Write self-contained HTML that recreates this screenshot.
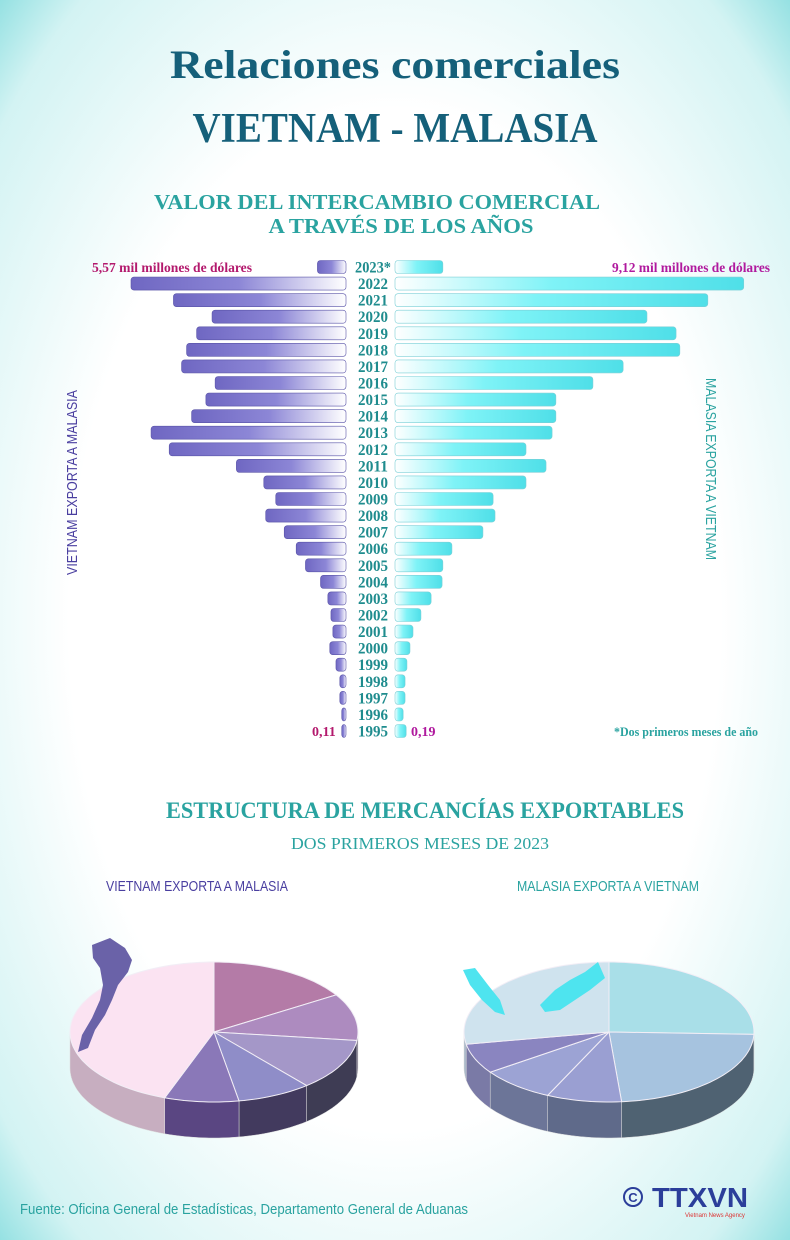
<!DOCTYPE html>
<html><head><meta charset="utf-8"><style>
html,body{margin:0;padding:0}
body{width:790px;height:1240px;overflow:hidden}
svg{display:block}
.serif{font-family:"Liberation Serif",serif;font-weight:bold}
.sans{font-family:"Liberation Sans",sans-serif}
</style></head><body>
<svg id="page" width="790" height="1240" viewBox="0 0 790 1240" xmlns="http://www.w3.org/2000/svg">
<defs>
<radialGradient id="bg" cx="50%" cy="50%" r="75%">
<stop offset="0.55" stop-color="#ffffff"/><stop offset="0.85" stop-color="#d3f3f3"/><stop offset="1" stop-color="#6fd6d8"/>
</radialGradient>
<linearGradient id="gl" x1="0" x2="1" y1="0" y2="0">
<stop offset="0" stop-color="#6f67c2"/><stop offset="0.5" stop-color="#8c86d6"/><stop offset="1" stop-color="#ffffff"/>
</linearGradient>
<linearGradient id="gr" x1="0" x2="1" y1="0" y2="0">
<stop offset="0" stop-color="#ffffff"/><stop offset="0.45" stop-color="#7ff3f7"/><stop offset="1" stop-color="#4fdfe8"/>
</linearGradient>
</defs>
<rect x="0" y="0" width="790" height="1240" fill="url(#bg)"/>
<text class="serif" x="395" y="78" text-anchor="middle" font-size="40" fill="#15607a" textLength="450" lengthAdjust="spacingAndGlyphs">Relaciones comerciales</text>
<text class="serif" x="395" y="142" text-anchor="middle" font-size="42" fill="#15607a" textLength="405" lengthAdjust="spacingAndGlyphs">VIETNAM - MALASIA</text>
<text class="serif" x="377" y="209" text-anchor="middle" font-size="21" fill="#2aa3a0" textLength="446" lengthAdjust="spacingAndGlyphs">VALOR DEL INTERCAMBIO COMERCIAL</text>
<text class="serif" x="401" y="233" text-anchor="middle" font-size="21" fill="#2aa3a0" textLength="265" lengthAdjust="spacingAndGlyphs">A TRAVÉS DE LOS AÑOS</text>
<g id="bars"></g>
<text class="serif" x="92" y="272" font-size="14" fill="#b3196d" textLength="160" lengthAdjust="spacingAndGlyphs">5,57 mil millones de  dólares</text>
<text class="serif" x="612" y="272" font-size="14" fill="#b0199e" textLength="158" lengthAdjust="spacingAndGlyphs">9,12 mil millones de dólares</text>
<text class="serif" x="312" y="736" font-size="14" fill="#b3196d">0,11</text>
<text class="serif" x="411" y="736" font-size="14" fill="#b0199e">0,19</text>
<text class="serif" x="614" y="736" font-size="13" fill="#2aa3a0" textLength="144" lengthAdjust="spacingAndGlyphs">*Dos primeros meses de año</text>
<text class="sans" transform="translate(77,575) rotate(-90)" font-size="15" fill="#4a3fa0" textLength="185" lengthAdjust="spacingAndGlyphs">VIETNAM EXPORTA A MALASIA</text>
<text class="sans" transform="translate(706,378) rotate(90)" font-size="15" fill="#2aa3a0" textLength="182" lengthAdjust="spacingAndGlyphs">MALASIA EXPORTA A VIETNAM</text>
<text class="serif" x="425" y="818" text-anchor="middle" font-size="23" fill="#2aa3a0" textLength="518" lengthAdjust="spacingAndGlyphs">ESTRUCTURA DE MERCANCÍAS EXPORTABLES</text>
<text x="420" y="849" text-anchor="middle" font-size="17" fill="#2aa3a0" font-family="Liberation Serif, serif" textLength="258" lengthAdjust="spacingAndGlyphs">DOS PRIMEROS MESES DE 2023</text>
<text class="sans" x="106" y="891" font-size="15" fill="#4a3fa0" textLength="182" lengthAdjust="spacingAndGlyphs">VIETNAM EXPORTA A MALASIA</text>
<text class="sans" x="517" y="891" font-size="15" fill="#2aa3a0" textLength="182" lengthAdjust="spacingAndGlyphs">MALASIA EXPORTA A VIETNAM</text>
<g id="pies"></g>
<path d="M92,945 L110,938 L125,948 L132,960 L128,972 L118,985 L112,1000 L105,1015 L95,1030 L88,1048 L78,1052 L82,1035 L92,1018 L100,1000 L103,985 L100,968 L93,958 Z" fill="#6a62a8"/>
<path d="M463,970 L475,968 L488,985 L500,1000 L505,1015 L495,1012 L482,1000 L470,985 Z" fill="#4ee4ef"/>
<path d="M540,1005 L555,990 L570,980 L585,972 L598,962 L605,978 L590,990 L575,1000 L560,1010 L545,1012 Z" fill="#4ee4ef"/>
<text class="sans" x="20" y="1214" font-size="15" fill="#2aa3a0" textLength="448" lengthAdjust="spacingAndGlyphs">Fuente:  Oficina General de Estadísticas, Departamento General de Aduanas</text>
<circle cx="633" cy="1197" r="9" fill="none" stroke="#2b3e9a" stroke-width="2"/>
<text class="sans" x="633" y="1202" text-anchor="middle" font-size="13" font-weight="bold" fill="#2b3e9a">C</text>
<text class="sans" x="652" y="1207" font-size="28" font-weight="bold" fill="#2b3e9a" textLength="96" lengthAdjust="spacingAndGlyphs">TTXVN</text>
<text class="sans" x="685" y="1217" font-size="6" fill="#d33">Vietnam News Agency</text>
</svg>
<script>
const years = ["2023*","2022","2021","2020","2019","2018","2017","2016","2015","2014","2013","2012","2011","2010","2009","2008","2007","2006","2005","2004","2003","2002","2001","2000","1999","1998","1997","1996","1995"];
const vnExports = [0.74,5.57,4.47,3.47,3.87,4.13,4.26,3.39,3.63,4.0,5.05,4.58,2.84,2.13,1.82,2.08,1.6,1.29,1.05,0.66,0.47,0.39,0.34,0.42,0.26,0.16,0.16,0.11,0.11];
const myExports = [1.16,9.12,8.17,6.56,7.33,7.43,5.93,5.13,4.15,4.15,4.05,3.36,3.89,3.36,2.49,2.54,2.22,1.4,1.16,1.14,0.85,0.58,0.37,0.29,0.21,0.16,0.16,0.11,0.19];
const NS="http://www.w3.org/2000/svg";
const yTop=267, yStep=(731-267)/28, bh=13;
const xL=(v)=>346 - v*38.6;
const xR=(v)=>399 + v*37.8;
const g=document.getElementById('bars');
years.forEach((yr,i)=>{
  const yc=yTop+i*yStep;
  const l=document.createElementNS(NS,'rect');
  const lx=xL(vnExports[i]);
  l.setAttribute('x',lx);l.setAttribute('y',yc-bh/2);l.setAttribute('width',346-lx);l.setAttribute('height',bh);
  l.setAttribute('rx',3);l.setAttribute('fill','url(#gl)');l.setAttribute('stroke','#5a54a8');l.setAttribute('stroke-width','0.6');
  
  
  g.appendChild(l);
  const r=document.createElementNS(NS,'rect');
  const rx=xR(myExports[i]);
  r.setAttribute('x',395);r.setAttribute('y',yc-bh/2);r.setAttribute('width',rx-395);r.setAttribute('height',bh);
  r.setAttribute('rx',3);r.setAttribute('fill','url(#gr)');r.setAttribute('stroke','#7bcfd6');r.setAttribute('stroke-width','0.6');
  
  
  g.appendChild(r);
  const t=document.createElementNS(NS,'text');
  t.setAttribute('x',373);t.setAttribute('y',yc+5.5);t.setAttribute('text-anchor','middle');
  t.setAttribute('class','serif');t.setAttribute('font-size','16');t.setAttribute('fill','#1f8c8e');
  t.setAttribute('textLength',yr.length>4?'36':'30');t.setAttribute('lengthAdjust','spacingAndGlyphs');
  t.textContent=yr;
  
  
  g.appendChild(t);
});
const vnSliceBounds=[0,58,97,140,170,200,360];
const vnSliceColors=["#b47ba7","#ad8bbf","#a497c8","#8f8dc8","#8a78b8","#fbe3f2"];
const vnSideColors=["#4a3d5a","#4d4360","#3e3c54","#423a5e","#5a4682","#c7aec0"];
const mySliceBounds=[0,92,175,205,235,260,360];
const mySliceColors=["#a9dfe8","#a6c3df","#9a9fd2","#9ca3d4","#8a85c0","#cfe3ee"];
const mySideColors=["#3f5060","#4f6272","#5f6a8a","#6c7598","#7a7aa6","#a9b8c8"];
function pt(cx,cy,rx,ry,t){const a=t*Math.PI/180;return [cx+rx*Math.sin(a),cy-ry*Math.cos(a)];}
function drawPie(name,cx,cy,rx,ry,depth,bounds,cols,sides){
  const pg=document.getElementById('pies');
  for(let i=0;i<cols.length;i++){
    const a0=Math.max(bounds[i],90),a1=Math.min(bounds[i+1],270);
    if(a1<=a0) continue;
    let top=[];
    for(let t=a0;t<=a1+0.001;t+=2){top.push(pt(cx,cy,rx,ry,Math.min(t,a1)));}
    top.push(pt(cx,cy,rx,ry,a1));
    const bot=top.map(p=>[p[0],p[1]+depth]).reverse();
    const p=document.createElementNS(NS,'path');
    p.setAttribute('d','M'+top.concat(bot).map(q=>q[0].toFixed(1)+','+q[1].toFixed(1)).join(' L')+' Z');
    p.setAttribute('fill',sides[i]);p.setAttribute('stroke','#ddd');p.setAttribute('stroke-width','0.5');
    
    
    pg.appendChild(p);
  }
  for(let i=0;i<cols.length;i++){
    let pts=[[cx,cy]];
    for(let t=bounds[i];t<=bounds[i+1];t+=2) pts.push(pt(cx,cy,rx,ry,t));
    pts.push(pt(cx,cy,rx,ry,bounds[i+1]));
    const p=document.createElementNS(NS,'path');
    p.setAttribute('d','M'+pts.map(q=>q[0].toFixed(1)+','+q[1].toFixed(1)).join(' L')+' Z');
    p.setAttribute('fill',cols[i]);p.setAttribute('stroke','#f2eef6');p.setAttribute('stroke-width','1');
    
    
    pg.appendChild(p);
  }
}
drawPie('vn-pie',214,1032,144,70,36,vnSliceBounds,vnSliceColors,vnSideColors);
drawPie('my-pie',609,1032,145,70,36,mySliceBounds,mySliceColors,mySideColors);
</script>
</body></html>
